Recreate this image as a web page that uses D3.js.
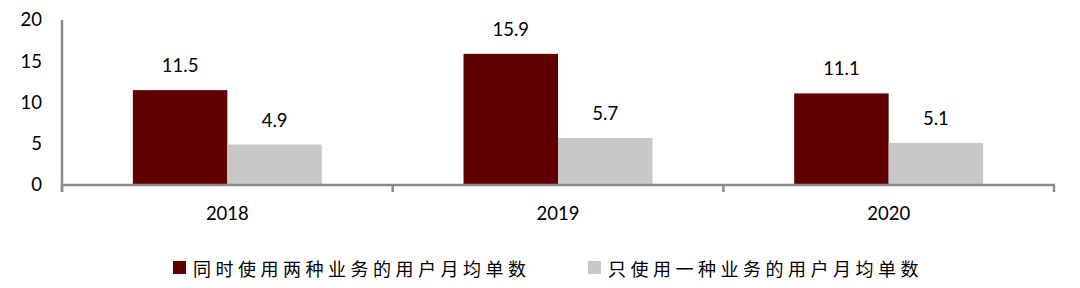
<!DOCTYPE html>
<html>
<head>
<meta charset="utf-8">
<script src="https://cdn.jsdelivr.net/npm/d3@7"></script>
<style>
  html, body { margin: 0; padding: 0; background: #fff; }
  svg { display: block; }
</style>
</head>
<body>
<svg id="chart" width="1080" height="288"></svg>
<script>
const categories = ["2018", "2019", "2020"];
const seriesNames = ["同时使用两种业务的用户月均单数", "只使用一种业务的用户月均单数"];
const seriesBoth = [11.5, 15.9, 11.1];
const seriesSingle = [4.9, 5.7, 5.1];
const yTicks = [0, 5, 10, 15, 20];
const colors = ["#600000", "#c8c8c8"];

const svg = d3.select("#chart");
const numFont = "Lato, 'Open Sans', sans-serif";
const cjkFont = "'Noto Sans CJK SC', sans-serif";
const axisColor = "#8a8a8a";

const x0 = d3.scaleBand().domain(categories).range([62, 1054]).paddingInner(0).paddingOuter(0);
const x1 = d3.scaleBand().domain([0, 1]).range([0, x0.bandwidth()]).paddingInner(0).paddingOuter(0.75);
const y = d3.scaleLinear().domain([0, 20]).range([185, 20]);

const data = categories.map((c, i) => ({ cat: c, vals: [seriesBoth[i], seriesSingle[i]] }));

// bars
const g = svg.append("g");
data.forEach(d => {
  d.vals.forEach((v, s) => {
    g.append("rect")
      .attr("x", x0(d.cat) + x1(s))
      .attr("y", y(v))
      .attr("width", x1.bandwidth())
      .attr("height", y(0) - y(v))
      .attr("fill", colors[s]);
    g.append("text")
      .attr("x", x0(d.cat) + x1(s) + x1.bandwidth() / 2)
      .attr("y", y(v) - 25)
      .attr("text-anchor", "middle")
      .attr("dominant-baseline", "central")
      .attr("font-family", numFont)
      .attr("font-size", 18.5)
      .attr("fill", "#000")
      .text(v.toFixed(1));
  });
});

// y axis
const yAxis = d3.axisLeft(y).tickValues(yTicks).tickSize(0).tickPadding(20);
const yg = svg.append("g").attr("transform", "translate(62,0)").call(yAxis);
yg.select(".domain").remove();
yg.selectAll("text").attr("font-family", numFont).attr("font-size", 18.5).attr("fill", "#000").attr("dy", "0.32em");
svg.append("line").attr("x1", 62).attr("x2", 62).attr("y1", 20).attr("y2", 192)
  .attr("stroke", axisColor).attr("stroke-width", 2.5);

// x axis
const xAxis = d3.axisBottom(x0).tickSize(0).tickPadding(22);
const xg = svg.append("g").attr("transform", `translate(0,${y(0)})`).call(xAxis);
xg.select(".domain").remove();
xg.selectAll("text").attr("font-family", numFont).attr("font-size", 18.5).attr("fill", "#000");
svg.append("line").attr("x1", 61).attr("x2", 1055).attr("y1", y(0)).attr("y2", y(0))
  .attr("stroke", axisColor).attr("stroke-width", 2.5);
const boundaries = categories.map(c => x0(c)).concat([x0.range()[1]]);
svg.selectAll("line.sep").data(boundaries).enter().append("line")
  .attr("class", "sep")
  .attr("x1", d => d).attr("x2", d => d)
  .attr("y1", y(0)).attr("y2", y(0) + 7)
  .attr("stroke", axisColor).attr("stroke-width", 2.5);

// legend
const legendX = [173, 588];
seriesNames.forEach((name, i) => {
  svg.append("rect").attr("x", legendX[i]).attr("y", 261).attr("width", 13).attr("height", 13).attr("fill", colors[i]);
  svg.append("text")
    .attr("x", legendX[i] + 20)
    .attr("y", 268)
    .attr("dominant-baseline", "central")
    .attr("font-family", cjkFont)
    .attr("font-size", 18)
    .attr("letter-spacing", "4.5px")
    .attr("fill", "#000")
    .text(name);
});
</script>
</body>
</html>
